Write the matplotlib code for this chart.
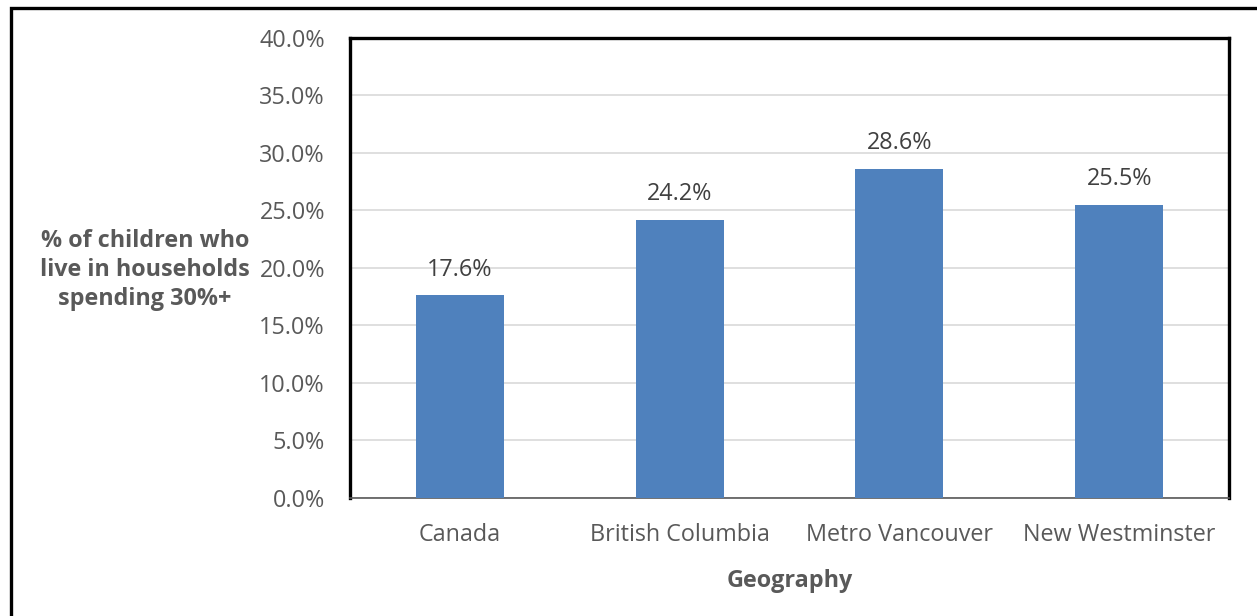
import matplotlib.pyplot as plt
from matplotlib.patches import Rectangle
from matplotlib.ticker import FuncFormatter

# share of children in households spending 30%+ of income on shelter
geos = ["Canada", "British Columbia", "Metro Vancouver", "New Westminster"]
pct = [17.6, 24.2, 28.6, 25.5]
yticks = [0, 5, 10, 15, 20, 25, 30, 35, 40]

txt = "#595959"
bar_col = "#4F81BD"
fs = 16.8
plt.rcParams["font.family"] = ["Open Sans", "DejaVu Sans"]

W, H = 1257, 616
fig = plt.figure(figsize=(W / 100, H / 100), dpi=100)
ax = fig.add_axes([350 / W, 1 - 498 / H, (1229 - 350) / W, (498 - 37.7) / H])

x = range(len(geos))
ax.bar(x, pct, width=0.4, color=bar_col, zorder=3)
for i, v in zip(x, pct):
    ax.annotate(f"{v:.1f}%", (i, v), xytext=(0, 10), textcoords="offset points",
                ha="center", va="bottom", fontsize=fs, color="#404040")

ax.set_xlim(-0.5, len(geos) - 0.5)
ax.set_ylim(0, 40)
ax.set_yticks(yticks)
ax.yaxis.set_major_formatter(FuncFormatter(lambda v, p: f"{v:.1f}%"))
ax.set_xticks(list(x))
ax.set_xticklabels(geos)
ax.tick_params(axis="both", length=0, labelsize=fs, labelcolor=txt)
ax.tick_params(axis="y", pad=18)
ax.tick_params(axis="x", pad=18)
ax.grid(axis="y", color="#D9D9D9", linewidth=1.2, zorder=0)

for side in ["top", "right", "left"]:
    ax.spines[side].set_color("black")
    ax.spines[side].set_linewidth(2.4)
ax.spines["bottom"].set_color("#595959")
ax.spines["bottom"].set_linewidth(1.2)

ax.set_xlabel("Geography", fontsize=fs, fontweight="bold", color=txt, labelpad=16)
fig.text(145 / W, 1 - 270 / H, "% of children who\nlive in households\nspending 30%+",
         ha="center", va="center", fontsize=fs, fontweight="bold", color=txt,
         linespacing=1.3)

# outer frame (runs past the right and bottom edges)
fig.patches.append(Rectangle((11 / W, -0.1), 1.2, 1.1 - 8 / H, transform=fig.transFigure,
                             fill=False, edgecolor="black", linewidth=2.4))

fig.savefig("out.png", dpi=100)
